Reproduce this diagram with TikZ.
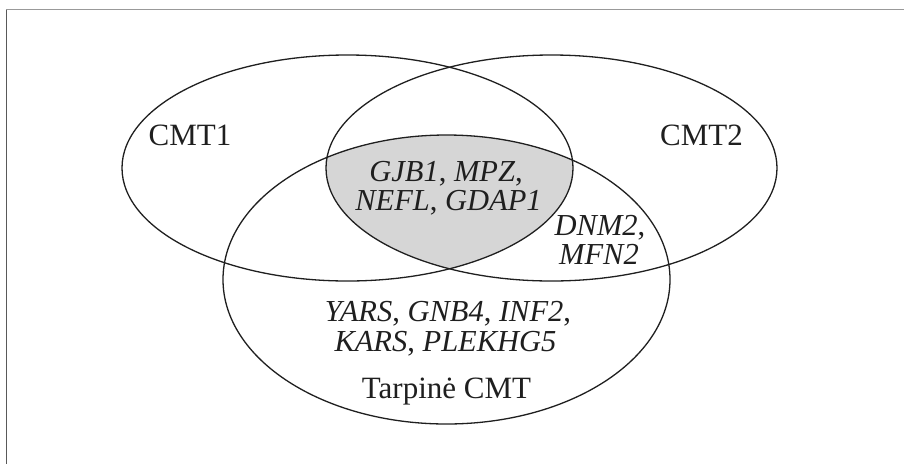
\documentclass[tikz,border=0pt]{standalone}
\usepackage{fontspec}
\setmainfont{Liberation Serif}
\begin{document}
\begin{tikzpicture}[x=1pt,y=-1pt,
  setline/.style={draw=black!88, line width=1.3pt},
  lbl/.style={anchor=base, inner sep=0pt, text=black!88, font=\fontsize{31}{34}\selectfont},
  gene/.style={anchor=base, inner sep=0pt, text=black!88, font=\fontsize{30.5}{33}\selectfont}]
\useasboundingbox (0,0) rectangle (904,464);
\fill[white] (0,0) rectangle (904,464);
% frame
\draw[draw=black!40, line width=1.6pt] (6.3,9.5) -- (904,9.5);
\draw[draw=black!65, line width=1.6pt] (6.3,9.5) -- (6.3,464);
% shaded triple intersection
\begin{scope}
  \clip (347.5,168) ellipse [x radius=225.5, y radius=113];
  \clip (551.5,168) ellipse [x radius=225.5, y radius=113];
  \fill[black!16] (446.5,279.5) ellipse [x radius=223.5, y radius=144.5];
\end{scope}
% sets
\draw[setline] (347.5,168) ellipse [x radius=225.5, y radius=113];
\draw[setline] (551.5,168) ellipse [x radius=225.5, y radius=113];
\draw[setline] (446.5,279.5) ellipse [x radius=223.5, y radius=144.5];
% labels
\node[lbl] (cmt1) at (190,145) {CMT1};
\node[lbl] (cmt2) at (701.5,145) {CMT2};
\node[lbl] (tarp) at (446.5,398) {Tarpinė CMT};
\node[gene] (g1) at (446,181.5) {\textit{GJB1}, \textit{MPZ},};
\node[gene] (g2) at (448.5,210.5) {\textit{NEFL}, \textit{GDAP1}};
\node[gene] (d1) at (600,235) {\textit{DNM2},};
\node[gene] (d2) at (599,264.5) {\textit{MFN2}};
\node[gene] (y1) at (448,321.5) {\textit{YARS}, \textit{GNB4}, \textit{INF2},};
\node[gene] (y2) at (445.5,351.5) {\textit{KARS}, \textit{PLEKHG5}};
\end{tikzpicture}
\end{document}
